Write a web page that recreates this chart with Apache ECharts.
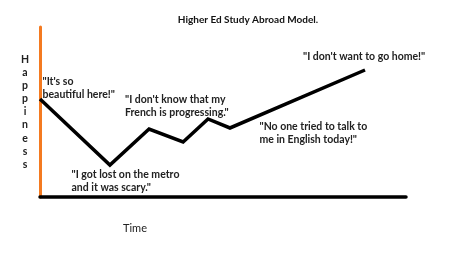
<!DOCTYPE html>
<html>
<head>
<meta charset="utf-8">
<script src="https://cdn.jsdelivr.net/npm/echarts@6/dist/echarts.min.js"></script>
<style>html,body{margin:0;padding:0;background:#fff}#c{width:450px;height:263px}</style>
</head>
<body>
<div id="c"></div>
<script>
// Data (time on 0-100 scale, happiness on 0-100 scale)
var timePoints = [0, 19.1, 29.8, 39.1, 45.9, 51.9, 88.8];
var happiness = [57.6, 18.8, 40.0, 32.4, 45.9, 40.6, 74.7];
var titleText = 'Higher Ed Study Abroad Model.';
var xName = 'Time';
var yName = 'Happiness';
var notes = [
  '"It\'s so\nbeautiful here!"',
  '"I don\'t know that my\nFrench is progressing."',
  '"I got lost on the metro\nand it was scary."',
  '"No one tried to talk to\nme in English today!"',
  '"I don\'t want to go home!"'
];

var FONT = 'Lato';
var chart = echarts.init(document.getElementById('c'), null, {renderer: 'canvas'});
var seriesData = timePoints.map(function (t, i) { return [t, happiness[i]]; });
var noteFont = 'bold 10.5px ' + FONT;
function note(txt, x, y) {
  return {type: 'text', x: x, y: y, z: 10,
    style: {text: txt, font: noteFont, fill: '#222', verticalAlign: 'middle', align: 'left', lineHeight: 13}};
}
chart.setOption({
  animation: false,
  backgroundColor: '#fff',
  title: {
    text: titleText, left: 243, top: 10, textAlign: 'center',
    textStyle: {fontFamily: FONT, fontWeight: 'bold', fontSize: 10, color: '#111'}
  },
  grid: {left: 40, right: 44, top: 27, bottom: 66, containLabel: false},
  xAxis: {
    type: 'value', min: 0, max: 100,
    name: xName, nameLocation: 'middle', nameGap: 31,
    nameTextStyle: {fontFamily: FONT, fontSize: 11, color: '#222', verticalAlign: 'middle', padding: [0, 176, 0, 0]},
    axisLine: {show: true, onZero: false, lineStyle: {color: '#000', width: 3.5}},
    axisTick: {show: false}, axisLabel: {show: false}, splitLine: {show: false}
  },
  yAxis: {
    type: 'value', min: 0, max: 100,
    name: yName.split('').join('\n'), nameLocation: 'middle', nameGap: 15, nameRotate: 0,
    nameTextStyle: {fontFamily: FONT, fontWeight: 'bold', fontSize: 10.5, color: '#222', align: 'center', verticalAlign: 'middle', lineHeight: 13.1},
    axisLine: {show: true, lineStyle: {color: '#F47A20', width: 3}},
    axisTick: {show: false}, axisLabel: {show: false}, splitLine: {show: false}
  },
  series: [{
    type: 'line', data: seriesData, showSymbol: false, symbol: 'none',
    lineStyle: {color: '#000', width: 3.5, join: 'miter'}, z: 5
  }],
  graphic: [
    note(notes[0], 42.5, 88.2),
    note(notes[1], 125, 106.5),
    note(notes[2], 71.5, 180.8),
    note(notes[3], 259.5, 132.8),
    note(notes[4], 303, 57)
  ]
});
</script>
</body>
</html>
